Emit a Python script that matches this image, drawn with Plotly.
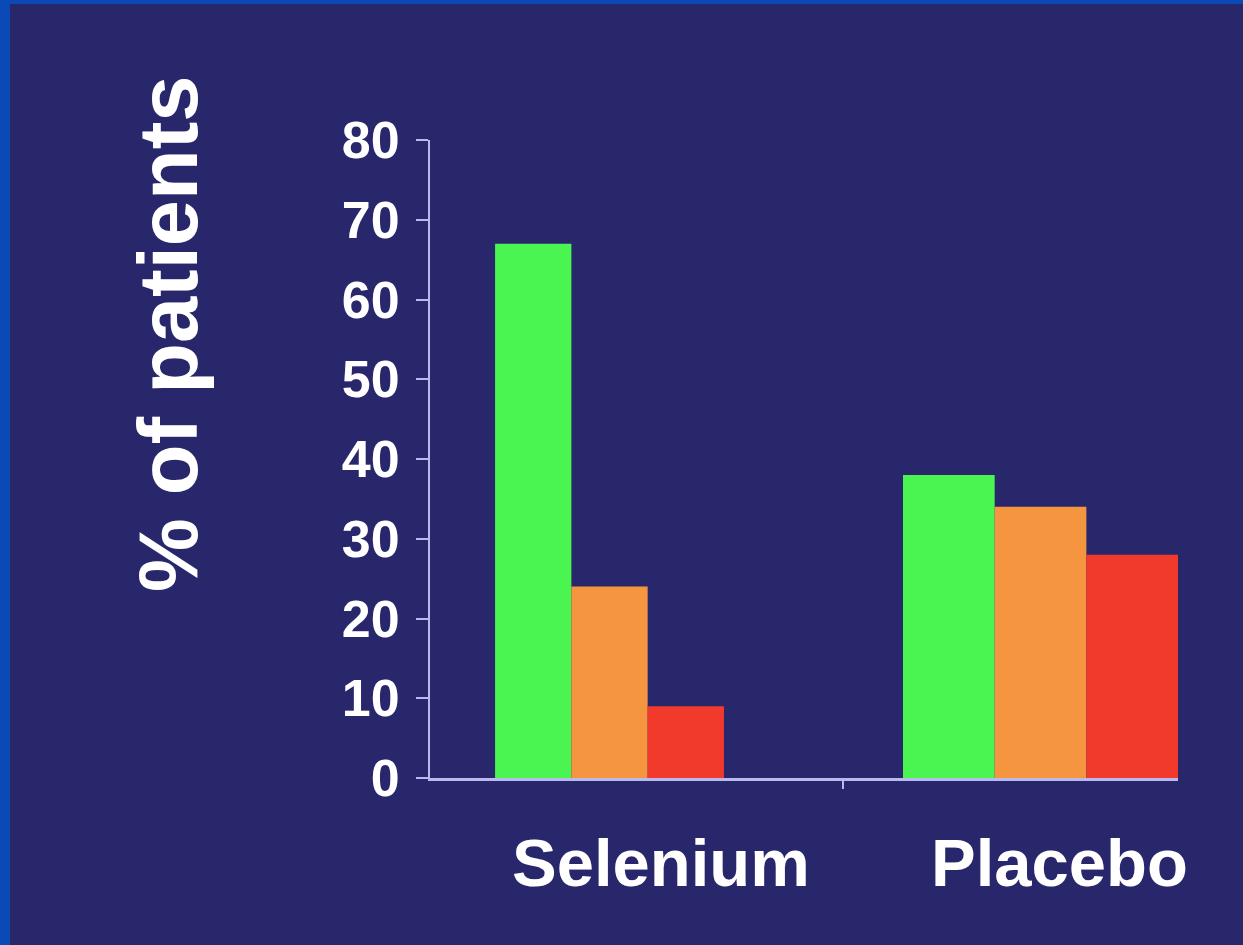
import plotly.graph_objects as go

# Outcome shares (% of patients) per study arm
groups = ["Selenium", "Placebo"]
outcome_a = [67, 38]   # green
outcome_b = [24, 34]   # orange
outcome_c = [9, 28]    # red
y_ticks = [0, 10, 20, 30, 40, 50, 60, 70, 80]

W, H = 1243, 945
L, R, T, B = 430, 65, 140, 167
pw, ph = W - L - R, H - T - B

NAVY = "#29276b"
EDGE = "#0b49b7"
AXIS = "#b9b9ee"
FONT = "Liberation Sans, Arial, Helvetica, sans-serif"

# bar widths per arm (x units, one unit between arm centres)
bar_w = [0.177, 0.2127]
colors = ["#4af552", "#f6953f", "#f23a2c"]
series = [outcome_a, outcome_b, outcome_c]

fig = go.Figure()
for k, (vals, col) in enumerate(zip(series, colors)):
    fig.add_trace(go.Bar(
        x=list(range(len(groups))),
        y=vals,
        width=bar_w,
        offset=[(k - 1.5) * w for w in bar_w],
        marker=dict(color=col, line=dict(width=0)),
        showlegend=False,
    ))

def px_x(p):
    return (p - L) / pw

def px_y(p):
    return (H - B - p) / ph

shapes = [
    # slide backdrop inside the blue frame
    dict(type="rect", xref="paper", yref="paper", layer="below",
         x0=px_x(10), x1=px_x(W + 5), y0=px_y(H + 5), y1=px_y(4),
         fillcolor=NAVY, line=dict(width=0)),
]

label_x = [0.12, 1.045]
annotations = [
    dict(text=g, x=lx, xref="x", y=px_y(862), yref="paper",
         xanchor="center", yanchor="middle", showarrow=False,
         font=dict(family=FONT, size=67, color="white", weight="bold"))
    for g, lx in zip(groups, label_x)
]
annotations.append(dict(
    text="% of patients", textangle=-90,
    x=px_x(168), xref="paper", y=px_y(334), yref="paper",
    xanchor="center", yanchor="middle", showarrow=False,
    font=dict(family=FONT, size=83, color="white", weight="bold"),
))

fig.update_layout(
    width=W, height=H,
    margin=dict(l=L, r=R, t=T, b=B),
    paper_bgcolor=EDGE,
    plot_bgcolor="rgba(0,0,0,0)",
    barmode="overlay",
    shapes=shapes,
    annotations=annotations,
    xaxis=dict(
        range=[-0.4165, 1.319],
        showgrid=False, zeroline=False,
        showline=True, linecolor=AXIS, linewidth=3,
        tickvals=[0.542], ticktext=[""],
        ticks="outside", ticklen=8, tickcolor=AXIS, tickwidth=2,
        fixedrange=True,
    ),
    yaxis=dict(
        range=[0, 80],
        tickvals=y_ticks, ticktext=[str(v) for v in y_ticks],
        showgrid=False, zeroline=False,
        showline=True, linecolor=AXIS, linewidth=2,
        ticks="outside", ticklen=12, tickcolor=AXIS, tickwidth=2,
        ticklabelstandoff=6,
        tickfont=dict(family=FONT, size=52, color="white", weight="bold"),
        fixedrange=True,
    ),
)

fig.write_html("out.html", config={"displayModeBar": False})
